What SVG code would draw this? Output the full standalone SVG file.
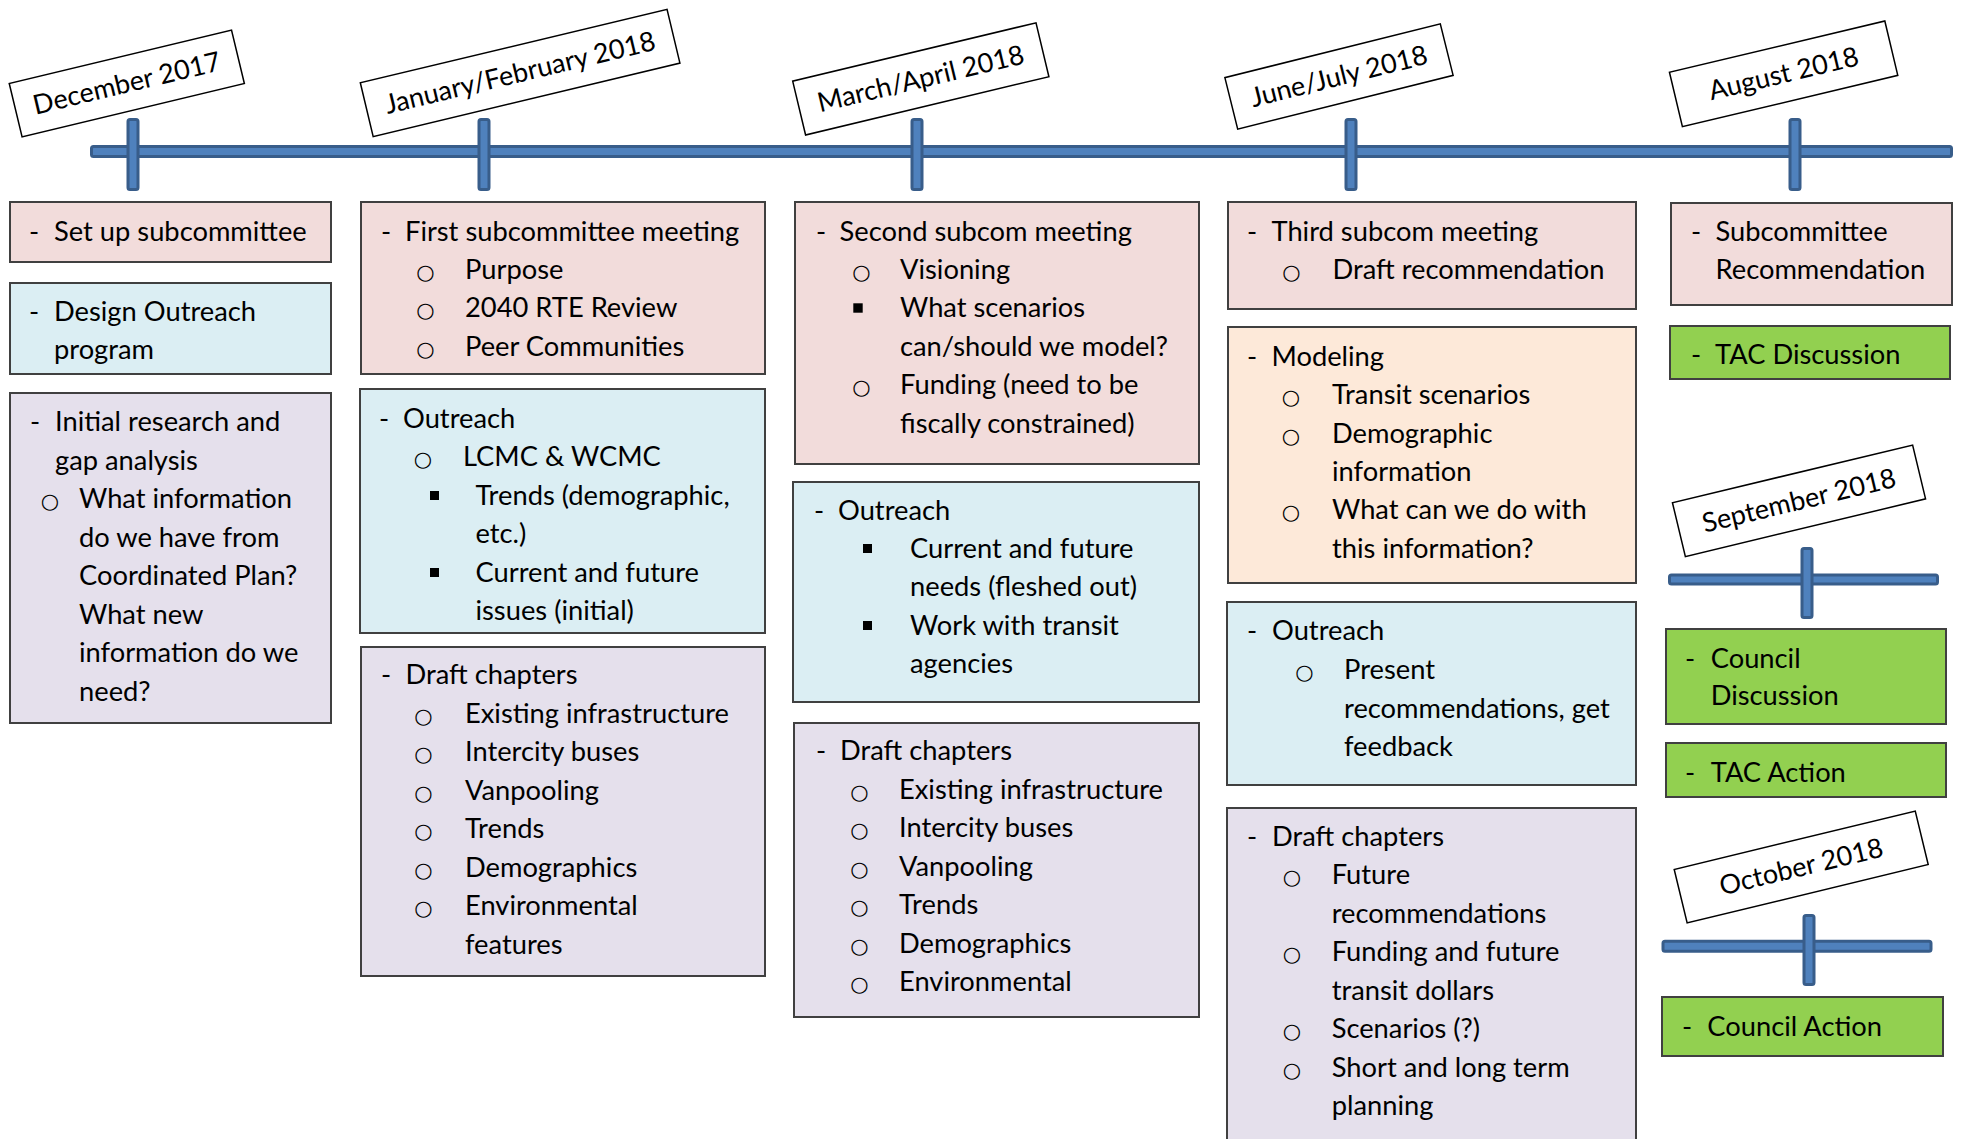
<svg xmlns="http://www.w3.org/2000/svg" width="1965" height="1139" viewBox="0 0 1965 1139">
<style>
.bx{stroke:#404040;stroke-width:2}
.pk{fill:#F2DCDB}.bl{fill:#DBEEF3}.lv{fill:#E5E0EC}.pc{fill:#FDE9D9}.gr{fill:#92D050}
text{font-family:Lato,"Noto Sans","Liberation Sans",sans-serif;font-size:27.3px;fill:#000}
text.o{font-family:"DejaVu Sans",sans-serif;font-size:21px;text-anchor:middle}
.bar{fill:#4F81BD;stroke:#385D8A;stroke-width:3}
.lbl rect{fill:#fff;stroke:#000;stroke-width:1.5}
.lbl text{text-anchor:middle;font-size:27px}
.sq{fill:#000}
</style>

<g id="timeline">
  <rect class="bar" x="91.5" y="146.5" width="1860" height="10" rx="2"/>
  <rect class="bar" x="128" y="119.5" width="10" height="70" rx="2"/>
  <rect class="bar" x="479" y="119.5" width="10" height="70" rx="2"/>
  <rect class="bar" x="912" y="119.5" width="10" height="70" rx="2"/>
  <rect class="bar" x="1346" y="119.5" width="10" height="70" rx="2"/>
  <rect class="bar" x="1790" y="119.5" width="10" height="70" rx="2"/>
  <rect class="bar" x="1669.5" y="575" width="268" height="9" rx="2"/>
  <rect class="bar" x="1802" y="548.5" width="10" height="69" rx="2"/>
  <rect class="bar" x="1663" y="941.2" width="268" height="10" rx="2"/>
  <rect class="bar" x="1804" y="915.5" width="10" height="69" rx="2"/>
</g>

<g id="label-dec-2017" class="lbl" transform="translate(126.8,83.5) rotate(-13.5)">
  <rect x="-114.3" y="-27.5" width="228.6" height="55"/><text x="0" y="9">December 2017</text></g>
<g id="label-jan-feb-2018" class="lbl" transform="translate(520.1,72.9) rotate(-13.46)">
  <rect x="-157.7" y="-27.6" width="315.4" height="55.3"/><text x="0" y="9">January/February 2018</text></g>
<g id="label-mar-apr-2018" class="lbl" transform="translate(920.8,78.9) rotate(-13.47)">
  <rect x="-125.1" y="-27.7" width="250.2" height="55.4"/><text x="0" y="9">March/April 2018</text></g>
<g id="label-jun-jul-2018" class="lbl" transform="translate(1339,76.5) rotate(-14)">
  <rect x="-111" y="-26.5" width="222" height="53"/><text x="0" y="9">June/July 2018</text></g>
<g id="label-aug-2018" class="lbl" transform="translate(1783.6,73.8) rotate(-13.4)">
  <rect x="-110.7" y="-27.9" width="221.4" height="55.9"/><text x="0" y="9">August 2018</text></g>
<g id="label-sep-2018" class="lbl" transform="translate(1799,500.8) rotate(-13.5)">
  <rect x="-123.5" y="-27.7" width="247" height="55.4"/><text x="0" y="9">September 2018</text></g>
<g id="label-oct-2018" class="lbl" transform="translate(1801.2,867) rotate(-13.6)">
  <rect x="-124" y="-27.5" width="248" height="55"/><text x="0" y="9">October 2018</text></g>

<g id="box-setup">
  <rect class="bx pk" x="10" y="202" width="321" height="60"/>
  <text x="29" y="241">-</text><text x="54" y="241">Set up subcommittee</text>
</g>
<g id="box-design-outreach">
  <rect class="bx bl" x="10" y="283" width="321" height="91"/>
  <text x="29" y="321">-</text><text x="54" y="321">Design Outreach</text><text x="54" y="359">program</text>
</g>
<g id="box-initial-research">
  <rect class="bx lv" x="10" y="393" width="321" height="330"/>
  <text x="30" y="431">-</text><text x="55" y="431">Initial research and</text>
  <text x="55" y="469.5">gap analysis</text>
  <text class="o" x="50" y="508">○</text>
  <text x="79" y="508">What information</text>
  <text x="79" y="546.5">do we have from</text>
  <text x="79" y="585">Coordinated Plan?</text>
  <text x="79" y="623.5">What new</text>
  <text x="79" y="662">information do we</text>
  <text x="79" y="700.5">need?</text>
</g>

<g id="box-first-meeting">
  <rect class="bx pk" x="361" y="202" width="404" height="172"/>
  <text x="381" y="241">-</text><text x="405" y="241">First subcommittee meeting</text>
  <text class="o" x="425.5" y="278.5">○</text><text x="465" y="278.5">Purpose</text>
  <text class="o" x="425.5" y="317">○</text><text x="465" y="317">2040 RTE Review</text>
  <text class="o" x="425.5" y="355.5">○</text><text x="465" y="355.5">Peer Communities</text>
</g>
<g id="box-outreach-1">
  <rect class="bx bl" x="360" y="389" width="405" height="244"/>
  <text x="379" y="428">-</text><text x="403" y="428">Outreach</text>
  <text class="o" x="423" y="466">○</text><text x="463" y="466">LCMC &amp; WCMC</text>
  <rect class="sq" x="430" y="491" width="9" height="9"/><text x="475.5" y="504.5">Trends (demographic,</text>
  <text x="475.5" y="543">etc.)</text>
  <rect class="sq" x="430" y="568" width="9" height="9"/><text x="475.5" y="581.5">Current and future</text>
  <text x="475.5" y="620">issues (initial)</text>
</g>
<g id="box-draft-1">
  <rect class="bx lv" x="361" y="647" width="404" height="329"/>
  <text x="381" y="684">-</text><text x="405.5" y="684">Draft chapters</text>
  <text class="o" x="423.5" y="722.5">○</text><text x="465" y="722.5">Existing infrastructure</text>
  <text class="o" x="423.5" y="761">○</text><text x="465" y="761">Intercity buses</text>
  <text class="o" x="423.5" y="799.5">○</text><text x="465" y="799.5">Vanpooling</text>
  <text class="o" x="423.5" y="838">○</text><text x="465" y="838">Trends</text>
  <text class="o" x="423.5" y="876.5">○</text><text x="465" y="876.5">Demographics</text>
  <text class="o" x="423.5" y="915">○</text><text x="465" y="915">Environmental</text>
  <text x="465" y="953.5">features</text>
</g>

<g id="box-second-meeting">
  <rect class="bx pk" x="795" y="202" width="404" height="262"/>
  <text x="816" y="241">-</text><text x="839.5" y="241">Second subcom meeting</text>
  <text class="o" x="861.5" y="278.5">○</text><text x="900" y="278.5">Visioning</text>
  <rect class="sq" x="853.3" y="303.3" width="9.4" height="9.4"/><text x="900" y="317">What scenarios</text>
  <text x="900" y="355.5">can/should we model?</text>
  <text class="o" x="861.5" y="394">○</text><text x="900" y="394">Funding (need to be</text>
  <text x="900" y="432.5">fiscally constrained)</text>
</g>
<g id="box-outreach-2">
  <rect class="bx bl" x="793" y="482" width="406" height="220"/>
  <text x="814" y="519.5">-</text><text x="838" y="519.5">Outreach</text>
  <rect class="sq" x="863" y="544" width="9" height="9"/><text x="910" y="557.5">Current and future</text>
  <text x="910" y="596">needs (fleshed out)</text>
  <rect class="sq" x="863" y="621" width="9" height="9"/><text x="910" y="634.5">Work with transit</text>
  <text x="910" y="673">agencies</text>
</g>
<g id="box-draft-2">
  <rect class="bx lv" x="794" y="723" width="405" height="294"/>
  <text x="816" y="760">-</text><text x="840" y="760">Draft chapters</text>
  <text class="o" x="859.5" y="798.5">○</text><text x="899" y="798.5">Existing infrastructure</text>
  <text class="o" x="859.5" y="837">○</text><text x="899" y="837">Intercity buses</text>
  <text class="o" x="859.5" y="875.5">○</text><text x="899" y="875.5">Vanpooling</text>
  <text class="o" x="859.5" y="914">○</text><text x="899" y="914">Trends</text>
  <text class="o" x="859.5" y="952.5">○</text><text x="899" y="952.5">Demographics</text>
  <text class="o" x="859.5" y="991">○</text><text x="899" y="991">Environmental</text>
</g>

<g id="box-third-meeting">
  <rect class="bx pk" x="1228" y="202" width="408" height="107"/>
  <text x="1247" y="241">-</text><text x="1271.5" y="241">Third subcom meeting</text>
  <text class="o" x="1291.5" y="278.5">○</text><text x="1332.5" y="278.5">Draft recommendation</text>
</g>
<g id="box-modeling">
  <rect class="bx pc" x="1228" y="327" width="408" height="256"/>
  <text x="1247" y="366">-</text><text x="1271.5" y="366">Modeling</text>
  <text class="o" x="1291" y="404.3">○</text><text x="1332" y="404.3">Transit scenarios</text>
  <text class="o" x="1291" y="442.6">○</text><text x="1332" y="442.6">Demographic</text>
  <text x="1332" y="480.9">information</text>
  <text class="o" x="1291" y="519.2">○</text><text x="1332" y="519.2">What can we do with</text>
  <text x="1332" y="557.5">this information?</text>
</g>
<g id="box-outreach-3">
  <rect class="bx bl" x="1227" y="602" width="409" height="183"/>
  <text x="1247" y="640">-</text><text x="1272" y="640">Outreach</text>
  <text class="o" x="1304.5" y="679">○</text><text x="1344" y="679">Present</text>
  <text x="1344" y="717.5">recommendations, get</text>
  <text x="1344" y="756">feedback</text>
</g>
<g id="box-draft-3">
  <rect class="bx lv" x="1227" y="808" width="409" height="360"/>
  <text x="1247" y="845.7">-</text><text x="1272" y="845.7">Draft chapters</text>
  <text class="o" x="1292" y="884.2">○</text><text x="1331.7" y="884.2">Future</text>
  <text x="1331.7" y="922.7">recommendations</text>
  <text class="o" x="1292" y="961.2">○</text><text x="1331.7" y="961.2">Funding and future</text>
  <text x="1331.7" y="999.7">transit dollars</text>
  <text class="o" x="1292" y="1038.2">○</text><text x="1331.7" y="1038.2">Scenarios (?)</text>
  <text class="o" x="1292" y="1076.7">○</text><text x="1331.7" y="1076.7">Short and long term</text>
  <text x="1331.7" y="1115.2">planning</text>
</g>

<g id="box-subcommittee-rec">
  <rect class="bx pk" x="1671" y="203" width="281" height="102"/>
  <text x="1691" y="241">-</text><text x="1715.5" y="241">Subcommittee</text>
  <text x="1715.5" y="278.5">Recommendation</text>
</g>
<g id="box-tac-discussion">
  <rect class="bx gr" x="1670" y="326" width="280" height="53"/>
  <text x="1691" y="363.5">-</text><text x="1715" y="363.5">TAC Discussion</text>
</g>
<g id="box-council-discussion">
  <rect class="bx gr" x="1666" y="629" width="280" height="95"/>
  <text x="1685" y="667.7">-</text><text x="1710.7" y="667.7">Council</text>
  <text x="1710.7" y="705.3">Discussion</text>
</g>
<g id="box-tac-action">
  <rect class="bx gr" x="1666" y="743" width="280" height="54"/>
  <text x="1685" y="782.4">-</text><text x="1710.7" y="782.4">TAC Action</text>
</g>
<g id="box-council-action">
  <rect class="bx gr" x="1662" y="997" width="281" height="59"/>
  <text x="1682" y="1035.6">-</text><text x="1707.3" y="1035.6">Council Action</text>
</g>
</svg>
